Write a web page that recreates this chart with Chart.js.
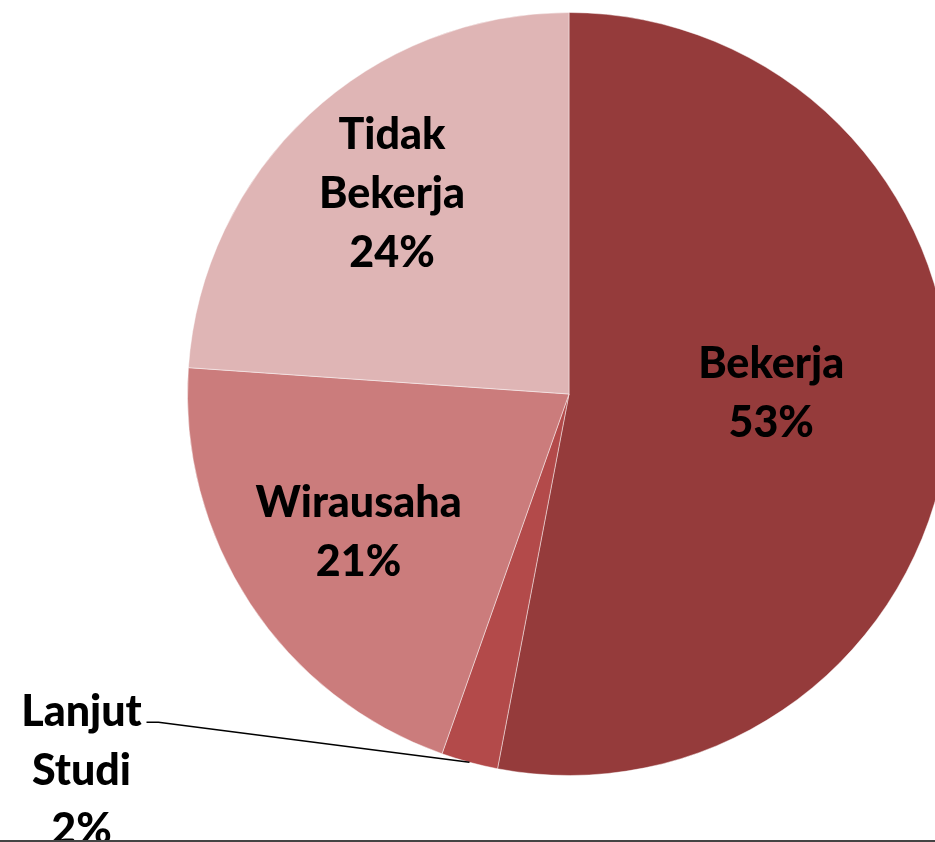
<!DOCTYPE html>
<html>
<head>
<meta charset="utf-8">
<script src="https://cdn.jsdelivr.net/npm/chart.js@4"></script>
<style>
  html, body { margin: 0; padding: 0; background: #fff; overflow: hidden; width: 935px; height: 842px; }
  #wrap { position: relative; width: 935px; height: 842px; overflow: hidden; }
  #baseline { position: absolute; left: 0; top: 840px; width: 935px; height: 2px; background: #444; }
</style>
</head>
<body>
<div id="wrap">
  <canvas id="pieChart" width="1000" height="842"></canvas>
  <div id="baseline"></div>
</div>
<script>
// Status lulusan
const categories = ['Bekerja', 'Lanjut Studi', 'Wirausaha', 'Tidak Bekerja'];
const values = [53, 2.4, 20.7, 23.9];
const colors = ['#953b3b', '#b34a4a', '#cb7c7c', '#dfb5b5'];
// label text lines, distance from the centre (fraction of radius), angle nudge (deg)
const labelLines = [['Bekerja'], ['Lanjut', 'Studi'], ['Wirausaha'], ['Tidak', 'Bekerja']];
const labelDist = [0.53, 0, 0.66, 0.70];
const labelNudge = [-5.5, 0, 0, 1.5];

const FONT = '900 43px Lato, "Open Sans", sans-serif';
const LINE_H = 59;

const pieLabels = {
  id: 'pieLabels',
  afterDatasetsDraw(chart) {
    const ctx = chart.ctx;
    const meta = chart.getDatasetMeta(0);
    ctx.save();
    ctx.font = FONT;
    ctx.fillStyle = '#000';
    ctx.textAlign = 'center';
    ctx.textBaseline = 'middle';
    meta.data.forEach((arc, i) => {
      const p = arc.getProps(['x', 'y', 'startAngle', 'endAngle', 'outerRadius']);
      const mid = (p.startAngle + p.endAngle) / 2 + labelNudge[i] * Math.PI / 180;
      const lines = labelLines[i].concat([Math.round(values[i]) + '%']);
      if (labelDist[i] > 0) {
        const cx = p.x + Math.cos(mid) * p.outerRadius * labelDist[i];
        const cy = p.y + Math.sin(mid) * p.outerRadius * labelDist[i];
        const top = cy - (lines.length - 1) * LINE_H / 2;
        lines.forEach((t, k) => ctx.fillText(t, cx, top + k * LINE_H));
      } else {
        // small slice: label outside with a leader line
        const ex = p.x + Math.cos(mid) * p.outerRadius;
        const ey = p.y + Math.sin(mid) * p.outerRadius;
        const sx = ex - 323, sy = ey - 40;
        ctx.strokeStyle = '#000';
        ctx.lineWidth = 1.5;
        ctx.beginPath();
        ctx.moveTo(sx, sy);
        ctx.lineTo(sx + 12, sy);
        ctx.lineTo(ex, ey);
        ctx.stroke();
        const cx = sx - 65;
        lines.forEach((t, k) => ctx.fillText(t, cx, sy - 10 + k * LINE_H));
      }
    });
    ctx.restore();
  }
};

new Chart(document.getElementById('pieChart'), {
  type: 'pie',
  data: {
    labels: categories,
    datasets: [{
      data: values,
      backgroundColor: colors,
      borderColor: 'rgba(255,255,255,0.45)',
      borderWidth: 1
    }]
  },
  options: {
    responsive: false,
    animation: false,
    layout: { padding: { left: 187, right: 49, top: 12, bottom: 66 } },
    plugins: {
      legend: { display: false },
      tooltip: { enabled: false }
    }
  },
  plugins: [pieLabels]
});
</script>
</body>
</html>
